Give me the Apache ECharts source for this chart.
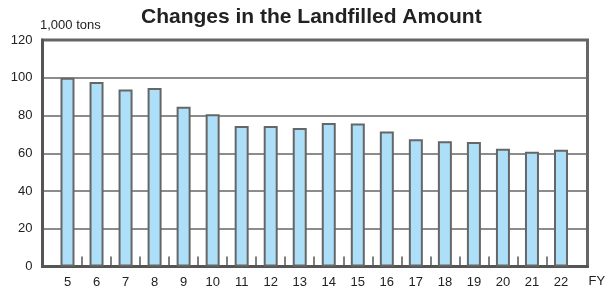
<!DOCTYPE html>
<html><head><meta charset="utf-8">
<script src="https://cdn.jsdelivr.net/npm/echarts@6/dist/echarts.min.js"></script>
<style>html,body{margin:0;padding:0;background:#fff}#c{width:610px;height:293px}</style>
</head><body><div id="c"></div>
<script>
var years = [5,6,7,8,9,10,11,12,13,14,15,16,17,18,19,20,21,22];
var amounts = [100,97.7,93.8,94.6,84.6,80.6,74.5,74.5,73.4,76,75.8,71.5,67.4,66.4,65.9,62.4,60.8,61.8];
var yTicks = [0,20,40,60,80,100,120];
var tickMarks = [5.5,6.5,7.5,8.5,9.5,10.5,11.5,12.5,13.5,14.5,15.5,16.5,17.5,18.5,19.5,20.5,21.5];
var titleText = 'Changes in the Landfilled Amount';
var unitText = '1,000 tons';
var xName = 'FY';

var font = '"Liberation Sans", Arial, sans-serif';
var chart = echarts.init(document.getElementById('c'), null, {renderer:'canvas'});
chart.setOption({
  animation:false,
  textStyle:{fontFamily:font},
  title:[
    {text:titleText, left:136, top:2, textStyle:{fontFamily:font, fontSize:21, fontWeight:'bold', color:'#222'}},
    {text:unitText, left:35, top:14, textStyle:{fontFamily:font, fontSize:13, fontWeight:'normal', color:'#222'}}
  ],
  grid:{left:42.5, right:22.5, top:40, bottom:26.5, show:true, borderWidth:3, borderColor:'#666', backgroundColor:'#fff'},
  xAxis:{
    type:'value', min:4.139, max:22.913,
    name:xName, nameLocation:'end', nameGap:1,
    nameTextStyle:{fontFamily:font, fontSize:13, color:'#222', verticalAlign:'top', padding:[8,0,0,0]},
    axisLine:{show:true, lineStyle:{color:'#555', width:3}},
    axisTick:{show:true, inside:true, length:10, customValues:tickMarks, lineStyle:{color:'#555', width:1.5}},
    axisLabel:{customValues:years, margin:9, fontFamily:font, fontSize:13, color:'#222'},
    splitLine:{show:false}
  },
  yAxis:{
    type:'value', min:0, max:120, interval:20,
    axisLine:{show:true, lineStyle:{color:'#555', width:3}},
    axisTick:{show:false},
    axisLabel:{customValues:yTicks, margin:10, fontFamily:font, fontSize:13, color:'#222'},
    splitLine:{show:true, lineStyle:{color:'#666', width:1.5}}
  },
  series:[{
    type:'bar', barWidth:14,
    data: years.map(function(y,i){return [y, amounts[i]];}),
    itemStyle:{color:'#ade0f8', borderColor:'#666', borderWidth:2}
  }]
});
</script></body></html>
